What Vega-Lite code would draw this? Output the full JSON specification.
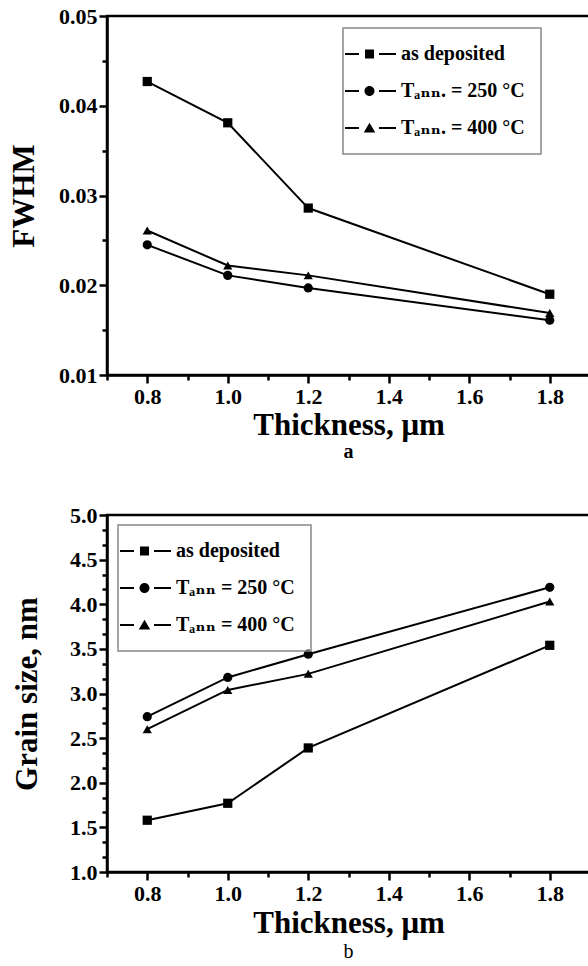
{
  "$schema": "https://vega.github.io/schema/vega-lite/v6.json",
  "padding": {"left": 7, "top": 3, "right": 0, "bottom": 0},
  "background": "white",
  "config": {
    "view": {"stroke": "black", "strokeWidth": 2.5},
    "font": "Liberation Serif",
    "axis": {
      "grid": false,
      "domainColor": "black",
      "domainWidth": 2.5,
      "ticks": true,
      "tickColor": "black",
      "tickOpacity": 1,
      "tickWidth": 2.5,
      "tickSize": 8,
      "labelFont": "Liberation Serif",
      "labelFontWeight": "bold",
      "labelFontSize": 22,
      "labelColor": "black",
      "titleFont": "Liberation Serif",
      "titleFontWeight": "bold",
      "titleFontSize": 31,
      "titleColor": "black",
      "labelOverlap": false,
      "labelFlush": false
    },
    "legend": {
      "labelFont": "Liberation Serif, DejaVu Serif",
      "labelFontWeight": "bold",
      "labelFontSize": 20,
      "labelColor": "black",
      "labelLimit": 300,
      "strokeColor": "#888888",
      "strokeWidth": 1.5,
      "padding": 16,
      "rowPadding": 17,
      "symbolSize": 100,
      "symbolOffset": -19,
      "labelOffset": 41,
      "symbolOpacity": 1,
      "symbolFillColor": "black",
      "symbolStrokeWidth": 0
    }
  },
  "datasets": {
    "fwhm": [
      {"thickness": 0.8, "value": 0.0427, "series": "as deposited"},
      {"thickness": 1.0, "value": 0.0381, "series": "as deposited"},
      {"thickness": 1.2, "value": 0.0286, "series": "as deposited"},
      {"thickness": 1.8, "value": 0.0190, "series": "as deposited"},
      {"thickness": 0.8, "value": 0.0245, "series": "Tₐₙₙ. = 250 °C"},
      {"thickness": 1.0, "value": 0.0211, "series": "Tₐₙₙ. = 250 °C"},
      {"thickness": 1.2, "value": 0.0197, "series": "Tₐₙₙ. = 250 °C"},
      {"thickness": 1.8, "value": 0.0161, "series": "Tₐₙₙ. = 250 °C"},
      {"thickness": 0.8, "value": 0.0261, "series": "Tₐₙₙ. = 400 °C"},
      {"thickness": 1.0, "value": 0.0222, "series": "Tₐₙₙ. = 400 °C"},
      {"thickness": 1.2, "value": 0.0211, "series": "Tₐₙₙ. = 400 °C"},
      {"thickness": 1.8, "value": 0.0169, "series": "Tₐₙₙ. = 400 °C"}
    ],
    "grain": [
      {"thickness": 0.8, "value": 1.58, "series": "as deposited"},
      {"thickness": 1.0, "value": 1.77, "series": "as deposited"},
      {"thickness": 1.2, "value": 2.39, "series": "as deposited"},
      {"thickness": 1.8, "value": 3.54, "series": "as deposited"},
      {"thickness": 0.8, "value": 2.74, "series": "Tₐₙₙ = 250 °C"},
      {"thickness": 1.0, "value": 3.18, "series": "Tₐₙₙ = 250 °C"},
      {"thickness": 1.2, "value": 3.44, "series": "Tₐₙₙ = 250 °C"},
      {"thickness": 1.8, "value": 4.19, "series": "Tₐₙₙ = 250 °C"},
      {"thickness": 0.8, "value": 2.60, "series": "Tₐₙₙ = 400 °C"},
      {"thickness": 1.0, "value": 3.04, "series": "Tₐₙₙ = 400 °C"},
      {"thickness": 1.2, "value": 3.22, "series": "Tₐₙₙ = 400 °C"},
      {"thickness": 1.8, "value": 4.03, "series": "Tₐₙₙ = 400 °C"}
    ]
  },
  "resolve": {"scale": {"shape": "independent"}, "legend": {"shape": "independent"}},
  "spacing": 38,
  "vconcat": [
    {
      "width": 483,
      "height": 359,
      "data": {"name": "fwhm"},
      "title": {"text": "a", "orient": "bottom", "font": "Liberation Serif", "fontWeight": "bold", "fontSize": 20, "color": "black", "offset": 2},
      "resolve": {"scale": {"shape": "independent"}, "axis": {"x": "independent", "y": "independent"}},
      "layer": [
        {
          "mark": {"type": "line", "color": "black", "strokeWidth": 2},
          "encoding": {
            "x": {
              "field": "thickness", "type": "quantitative",
              "scale": {"domain": [0.7, 1.9], "nice": false, "zero": false},
              "axis": {"title": "Thickness, μm", "orient": "bottom", "values": [0.8, 1.0, 1.2, 1.4, 1.6, 1.8], "format": ".1f", "labelPadding": 3, "titlePadding": 3}
            },
            "y": {
              "field": "value", "type": "quantitative",
              "scale": {"domain": [0.01, 0.05], "nice": false, "zero": false},
              "axis": {"title": "FWHM", "orient": "left", "values": [0.01, 0.02, 0.03, 0.04, 0.05], "format": ".2f", "labelPadding": 2, "titlePadding": 18}
            },
            "detail": {"field": "series"}
          }
        },
        {
          "mark": {"type": "point", "filled": true, "color": "black", "opacity": 1, "size": 85},
          "encoding": {
            "x": {
              "field": "thickness", "type": "quantitative",
              "axis": {"title": null, "orient": "bottom", "values": [0.7, 0.9, 1.1, 1.3, 1.5, 1.7, 1.9], "labels": false, "domain": false, "tickSize": 5}
            },
            "y": {
              "field": "value", "type": "quantitative",
              "axis": {"title": null, "orient": "left", "values": [0.015, 0.025, 0.035, 0.045], "labels": false, "domain": false, "tickSize": 5}
            },
            "shape": {
              "field": "series", "type": "nominal",
              "scale": {"domain": ["as deposited", "Tₐₙₙ. = 250 °C", "Tₐₙₙ. = 400 °C"], "range": ["square", "circle", "triangle-up"]},
              "legend": null
            }
          }
        },
        {
          "mark": {"type": "point", "filled": true, "color": "black", "opacity": 0, "size": 100},
          "encoding": {
            "x": {"field": "thickness", "type": "quantitative", "axis": null},
            "y": {"field": "value", "type": "quantitative", "axis": null},
            "shape": {
              "field": "series", "type": "nominal",
              "scale": {
                "domain": ["as deposited", "Tₐₙₙ. = 250 °C", "Tₐₙₙ. = 400 °C"],
                "range": [
                  "M-1,-0.2 L1.8,-0.2 L1.8,0.2 L-1,0.2 Z M3,-0.9 L4.8,-0.9 L4.8,0.9 L3,0.9 Z M5.8,-0.2 L9.2,-0.2 L9.2,0.2 L5.8,0.2 Z",
                  "M-1,-0.2 L1.8,-0.2 L1.8,0.2 L-1,0.2 Z M2.9,0 A1,1 0 1,0 4.9,0 A1,1 0 1,0 2.9,0 Z M5.8,-0.2 L9.2,-0.2 L9.2,0.2 L5.8,0.2 Z",
                  "M-1,-0.2 L1.8,-0.2 L1.8,0.2 L-1,0.2 Z M3.9,-1.05 L5.05,0.9 L2.75,0.9 Z M5.8,-0.2 L9.2,-0.2 L9.2,0.2 L5.8,0.2 Z"
                ]
              },
              "legend": {"title": null, "orient": "none", "legendX": 236, "legendY": 12}
            }
          }
        }
      ]
    },
    {
      "width": 483,
      "height": 357,
      "data": {"name": "grain"},
      "title": {"text": "b", "orient": "bottom", "font": "Liberation Serif", "fontWeight": "normal", "fontSize": 20, "color": "black", "offset": 4},
      "resolve": {"scale": {"shape": "independent"}, "axis": {"x": "independent", "y": "independent"}},
      "layer": [
        {
          "mark": {"type": "line", "color": "black", "strokeWidth": 2},
          "encoding": {
            "x": {
              "field": "thickness", "type": "quantitative",
              "scale": {"domain": [0.7, 1.9], "nice": false, "zero": false},
              "axis": {"title": "Thickness, μm", "orient": "bottom", "values": [0.8, 1.0, 1.2, 1.4, 1.6, 1.8], "format": ".1f", "labelPadding": 3, "titlePadding": 4}
            },
            "y": {
              "field": "value", "type": "quantitative",
              "scale": {"domain": [1, 5], "nice": false, "zero": false},
              "axis": {"title": "Grain size, nm", "orient": "left", "values": [1, 1.5, 2, 2.5, 3, 3.5, 4, 4.5, 5], "format": ".1f", "labelPadding": 2, "titlePadding": 26}
            },
            "detail": {"field": "series"}
          }
        },
        {
          "mark": {"type": "point", "filled": true, "color": "black", "opacity": 1, "size": 85},
          "encoding": {
            "x": {
              "field": "thickness", "type": "quantitative",
              "axis": {"title": null, "orient": "bottom", "values": [0.7, 0.9, 1.1, 1.3, 1.5, 1.7, 1.9], "labels": false, "domain": false, "tickSize": 5}
            },
            "y": {
              "field": "value", "type": "quantitative",
              "axis": {"title": null, "orient": "left", "values": [1.1667, 1.3333, 1.6667, 1.8333, 2.1667, 2.3333, 2.6667, 2.8333, 3.1667, 3.3333, 3.6667, 3.8333, 4.1667, 4.3333, 4.6667, 4.8333], "labels": false, "domain": false, "tickSize": 5}
            },
            "shape": {
              "field": "series", "type": "nominal",
              "scale": {"domain": ["as deposited", "Tₐₙₙ = 250 °C", "Tₐₙₙ = 400 °C"], "range": ["square", "circle", "triangle-up"]},
              "legend": null
            }
          }
        },
        {
          "mark": {"type": "point", "filled": true, "color": "black", "opacity": 0, "size": 100},
          "encoding": {
            "x": {"field": "thickness", "type": "quantitative", "axis": null},
            "y": {"field": "value", "type": "quantitative", "axis": null},
            "shape": {
              "field": "series", "type": "nominal",
              "scale": {
                "domain": ["as deposited", "Tₐₙₙ = 250 °C", "Tₐₙₙ = 400 °C"],
                "range": [
                  "M-1,-0.2 L1.8,-0.2 L1.8,0.2 L-1,0.2 Z M3,-0.9 L4.8,-0.9 L4.8,0.9 L3,0.9 Z M5.8,-0.2 L9.2,-0.2 L9.2,0.2 L5.8,0.2 Z",
                  "M-1,-0.2 L1.8,-0.2 L1.8,0.2 L-1,0.2 Z M2.9,0 A1,1 0 1,0 4.9,0 A1,1 0 1,0 2.9,0 Z M5.8,-0.2 L9.2,-0.2 L9.2,0.2 L5.8,0.2 Z",
                  "M-1,-0.2 L1.8,-0.2 L1.8,0.2 L-1,0.2 Z M3.9,-1.05 L5.05,0.9 L2.75,0.9 Z M5.8,-0.2 L9.2,-0.2 L9.2,0.2 L5.8,0.2 Z"
                ]
              },
              "legend": {"title": null, "orient": "none", "legendX": 11, "legendY": 10}
            }
          }
        }
      ]
    }
  ]
}
